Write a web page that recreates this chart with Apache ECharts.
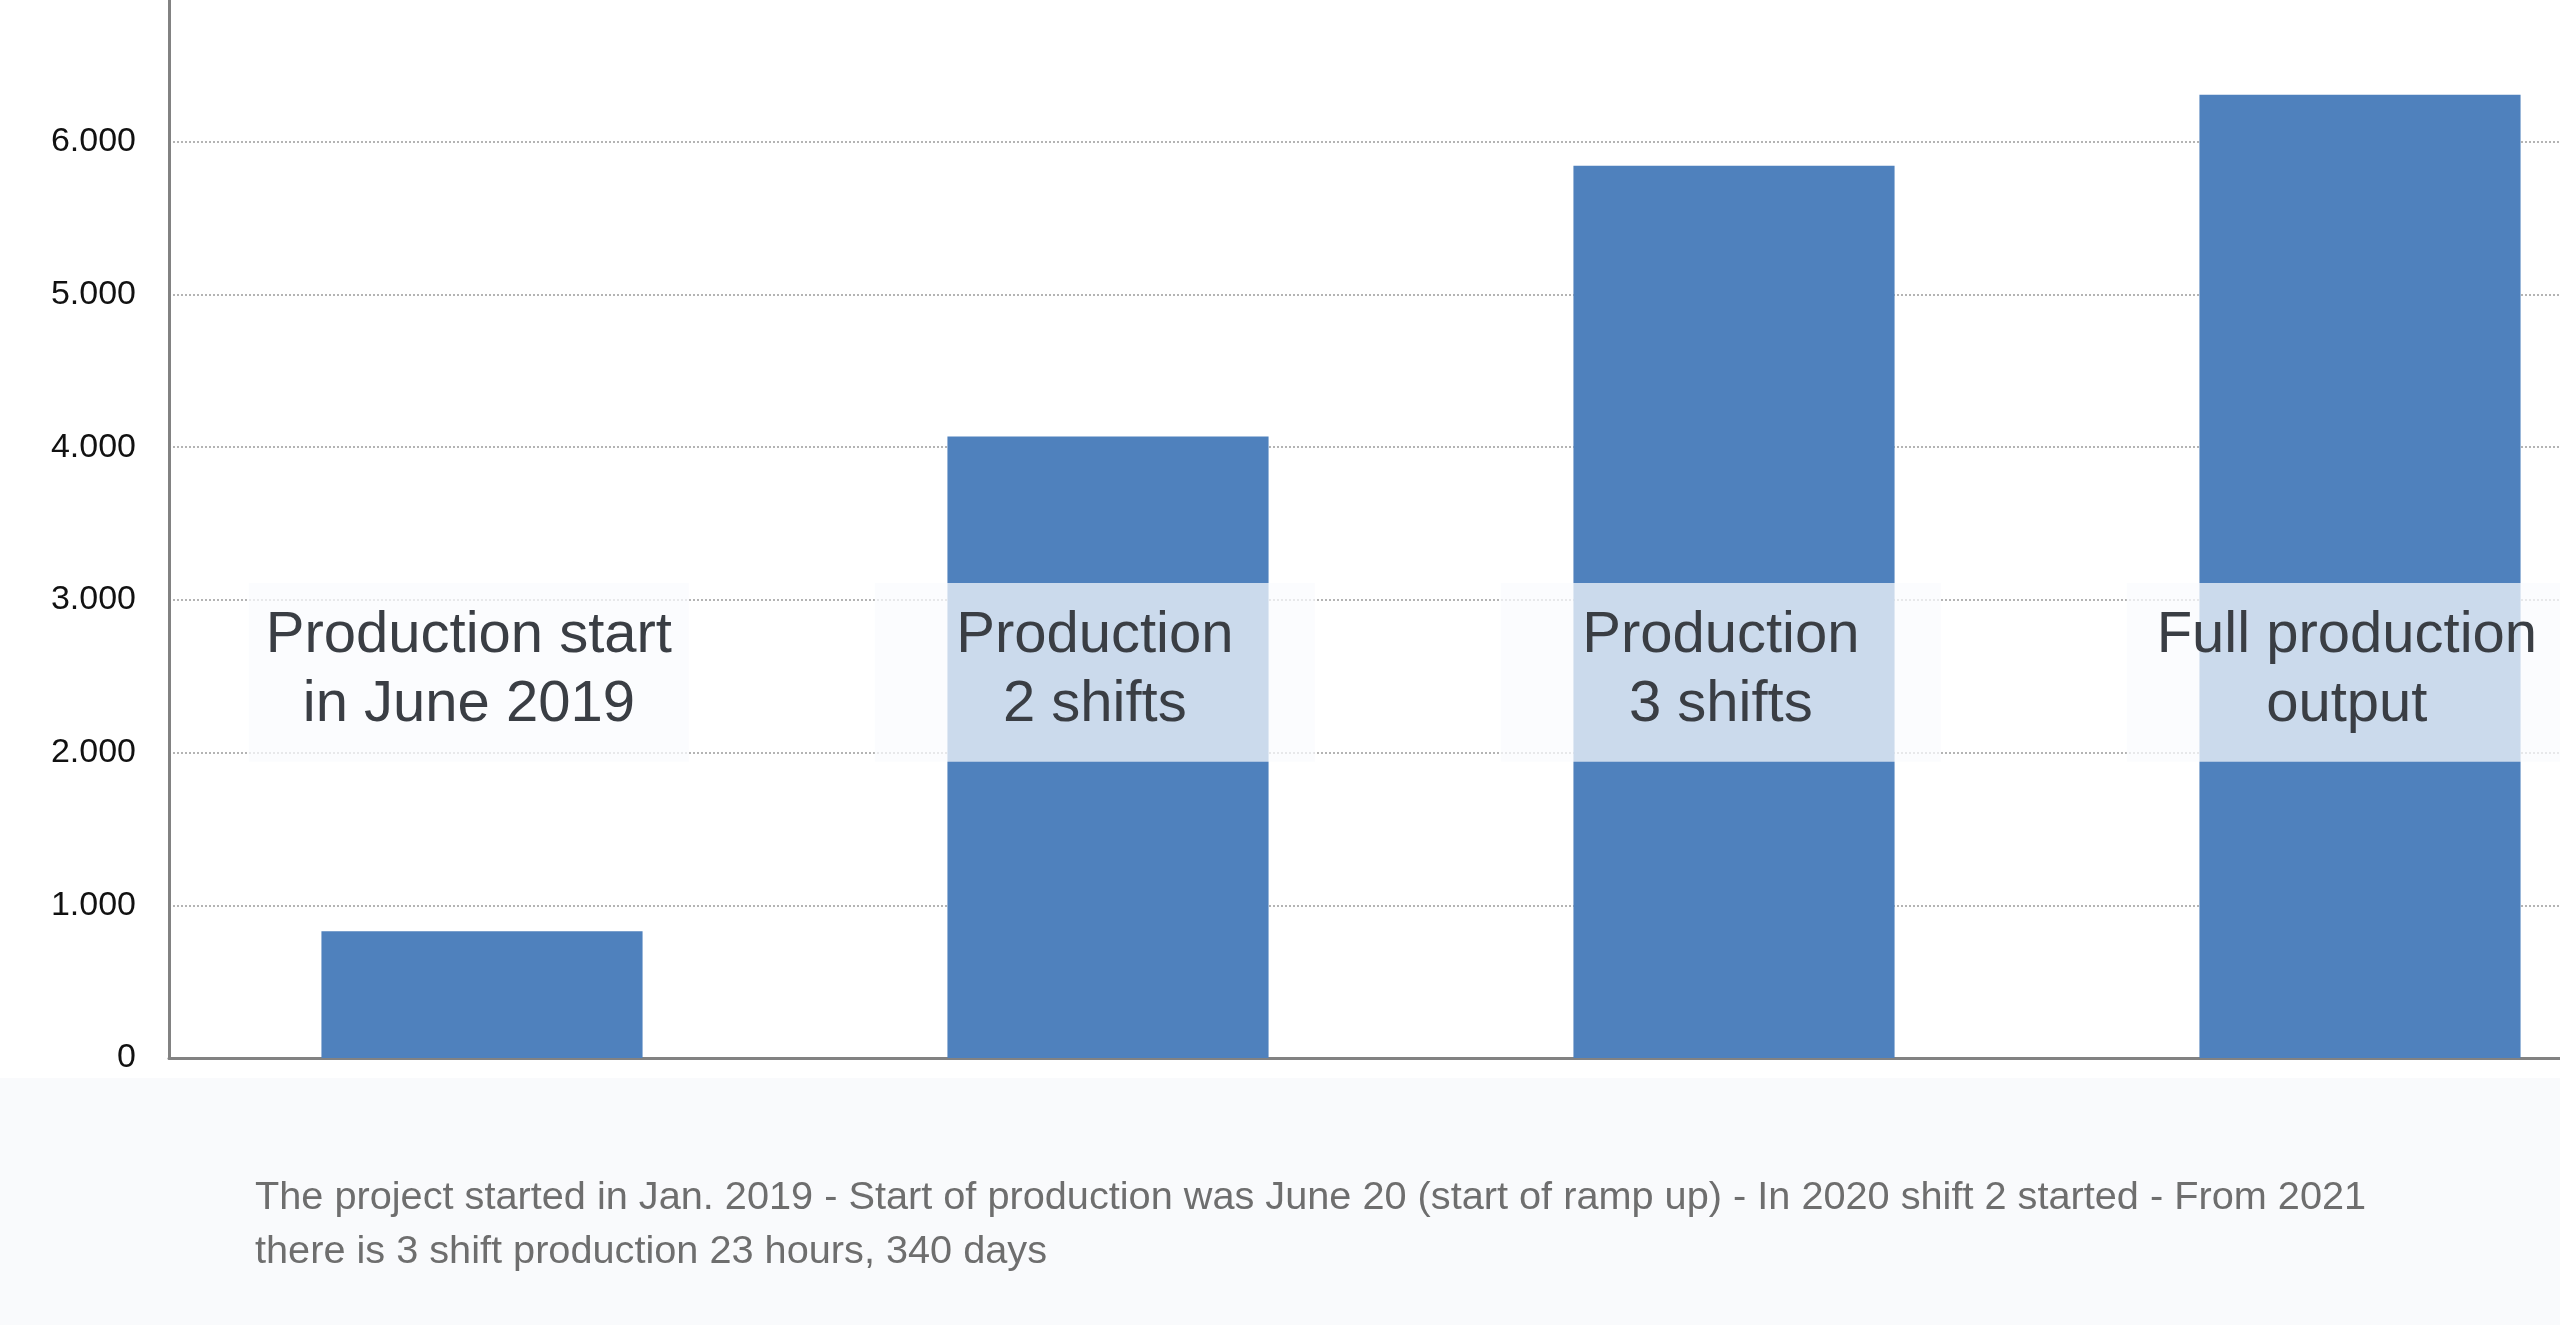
<!DOCTYPE html>
<html>
<head>
<meta charset="utf-8">
<script src="https://cdn.jsdelivr.net/npm/echarts@6/dist/echarts.min.js"></script>
<style>
html,body{margin:0;padding:0;background:#fff;overflow:hidden;width:2560px;height:1325px;}
#chart{position:absolute;left:0;top:-60px;width:2760px;height:1385px;}
</style>
</head>
<body>
<div id="chart"></div>
<script>
const categories = ['2019', '2020', '2021', '2022'];
const outputValues = [830, 4070, 5843, 6307];
const labelTexts = [
  'Production start\nin June 2019',
  'Production\n2 shifts',
  'Production\n3 shifts',
  'Full production\noutput'
];
const yTicks = [0, 1000, 2000, 3000, 4000, 5000, 6000, 7000];
const footerText = 'The project started in Jan. 2019 - Start of production was June 20 (start of ramp up) - In 2020 shift 2 started - From 2021\nthere is 3 shift production 23 hours, 340 days';

const chart = echarts.init(document.getElementById('chart'), null, {renderer: 'canvas'});

function fmt(v) {
  return String(v).replace(/\B(?=(\d{3})+(?!\d))/g, '.');
}

const option = {
  backgroundColor: '#ffffff',
  animation: false,
  grid: {left: 169, right: 87, top: 49, bottom: 267, containLabel: false},
  xAxis: {
    type: 'category',
    data: categories,
    axisLine: {show: true, lineStyle: {color: '#828282', width: 3}},
    axisTick: {show: false},
    axisLabel: {show: false},
    splitLine: {show: false}
  },
  yAxis: {
    type: 'value',
    min: yTicks[0],
    max: yTicks[yTicks.length - 1],
    interval: 1000,
    axisLine: {show: true, lineStyle: {color: '#828282', width: 3}},
    axisTick: {show: false},
    axisLabel: {
      formatter: fmt,
      fontFamily: 'Liberation Sans, Arial, sans-serif',
      fontSize: 34,
      color: '#111111',
      margin: 33,
      showMaxLabel: true
    },
    splitLine: {show: true, lineStyle: {color: '#b4b4b4', width: 2, type: [2, 2]}}
  },
  series: [
    {
      type: 'bar',
      data: outputValues,
      barWidth: '51.3%',
      itemStyle: {color: '#4f81bd'},
      z: 2
    },
    {
      type: 'custom',
      data: categories.map((c, i) => [i, 2500]),
      z: 5,
      renderItem: function (params, api) {
        const i = params.dataIndex;
        const top = api.coord([i, 3110]);
        const bot = api.coord([i, 1940]);
        const bw = api.size([1, 0])[0];
        const w = bw * 0.703;
        const cx = top[0] - bw * 0.021;
        return {
          type: 'group',
          children: [
            {
              type: 'rect',
              shape: {x: cx - w / 2, y: top[1], width: w, height: bot[1] - top[1]},
              style: {fill: 'rgba(249,251,253,0.73)'}
            },
            {
              type: 'text',
              style: {
                text: labelTexts[i],
                x: cx,
                y: (top[1] + bot[1]) / 2 - 2,
                align: 'center',
                verticalAlign: 'middle',
                font: '58px "Liberation Sans", Arial, sans-serif',
                lineHeight: 69,
                fill: '#3a3e44'
              }
            }
          ]
        };
      }
    }
  ],
  graphic: [
    {
      type: 'rect',
      left: 0,
      top: 1138,
      z: 10,
      shape: {width: 2760, height: 247},
      style: {fill: '#f9fafc'}
    },
    {
      type: 'text',
      left: 255,
      top: 1231,
      z: 11,
      style: {
        text: footerText,
        font: '39.7px "Liberation Sans", Arial, sans-serif',
        lineHeight: 54,
        fill: '#6e6e6e'
      }
    }
  ]
};
chart.setOption(option);
</script>
</body>
</html>
